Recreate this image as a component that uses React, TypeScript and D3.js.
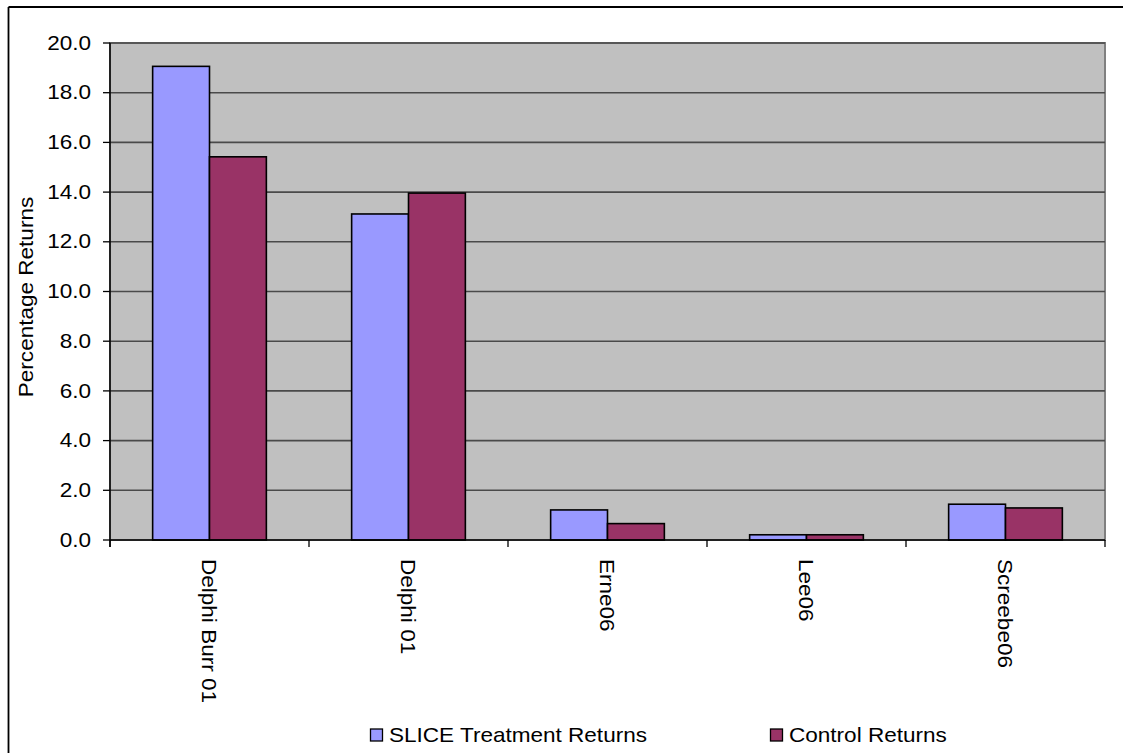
import React, { useEffect } from "react";
import * as d3 from "d3";

const categories = ["Delphi Burr 01", "Delphi 01", "Erne06", "Lee06", "Screebe06"];
const treatmentValues = [19.06, 13.12, 1.21, 0.21, 1.44];
const controlValues = [15.42, 13.96, 0.66, 0.21, 1.29];
const seriesNames = ["SLICE Treatment Returns", "Control Returns"];
const seriesColors = ["#9999FF", "#993366"];
const yTicks = [0, 2, 4, 6, 8, 10, 12, 14, 16, 18, 20];
const yTitle = "Percentage Returns";

const FONT = "'Liberation Sans', Arial, Helvetica, sans-serif";
const FS = 20.5;
const SX = 1.1;

export default function App() {
  useEffect(() => {
    document.body.style.overflow = "hidden";
    document.documentElement.style.overflow = "hidden";
    document.body.style.margin = "0";
  }, []);
  const left = 110, right = 1105, top = 43, bottom = 540;
  const x = d3.scaleBand<string>().domain(categories).range([left, right]).paddingInner(0).paddingOuter(0);
  const bw = x.bandwidth();
  const barW = bw / 3.5;
  const y = d3.scaleLinear().domain([0, 20]).range([bottom, top]);
  const series = [treatmentValues, controlValues];

  return (
    <svg width={1160} height={790} style={{ position: "fixed", left: 0, top: 0, display: "block", background: "#fff" }}>
      {/* outer frame */}
      <line x1={8.5} x2={8.5} y1={7} y2={790} stroke="#000" strokeWidth={1.8} />
      <line x1={8.5} x2={1160} y1={7} y2={7} stroke="#000" strokeWidth={1.8} />
      {/* plot area */}
      <rect x={left} y={top} width={right - left} height={bottom - top} fill="#C0C0C0" stroke="#808080" strokeWidth={2} />
      {yTicks.filter((t) => t > 0).map((t) => (
        <line key={t} x1={left} x2={right} y1={y(t)} y2={y(t)} stroke="#4a4a4a" strokeWidth={1.6} />
      ))}
      {/* bars */}
      {categories.map((c, i) => {
        const cx = (x(c) as number) + bw / 2;
        return series.map((vals, s) => (
          <rect
            key={c + s}
            x={cx - barW + s * barW}
            y={y(vals[i])}
            width={barW}
            height={bottom - y(vals[i])}
            fill={seriesColors[s]}
            stroke="#000"
            strokeWidth={1.6}
          />
        ));
      })}
      {/* axes */}
      <line x1={left} x2={left} y1={top} y2={bottom + 7} stroke="#000" strokeWidth={1.5} />
      <line x1={left} x2={right} y1={bottom} y2={bottom} stroke="#000" strokeWidth={1.5} />
      {yTicks.map((t) => (
        <g key={"yt" + t}>
          <line x1={left - 7} x2={left} y1={y(t)} y2={y(t)} stroke="#000" strokeWidth={1.3} />
          <text
            transform={`translate(${91},${y(t)}) scale(${SX},1)`}
            textAnchor="end"
            dominantBaseline="central"
            fontFamily={FONT}
            fontSize={FS}
            fill="#000"
          >
            {t.toFixed(1)}
          </text>
        </g>
      ))}
      {categories.map((c, i) => (
        <line key={"xt" + i} x1={x(c) as number} x2={x(c) as number} y1={bottom} y2={bottom + 7} stroke="#000" strokeWidth={1.3} />
      ))}
      <line x1={right} x2={right} y1={bottom} y2={bottom + 7} stroke="#000" strokeWidth={1.3} />
      {categories.map((c) => (
        <text
          key={"xl" + c}
          transform={`translate(${(x(c) as number) + bw / 2 - 0.5},${559}) rotate(90) scale(${SX},1)`}
          textAnchor="start"
          dominantBaseline="central"
          fontFamily={FONT}
          fontSize={FS}
          fill="#000"
        >
          {c}
        </text>
      ))}
      {/* y title */}
      <text
        transform={`translate(${33},${297}) rotate(-90) scale(${SX},1)`}
        textAnchor="middle"
        fontFamily={FONT}
        fontSize={FS}
        fill="#000"
      >
        {yTitle}
      </text>
      {/* legend */}
      {seriesNames.map((n, s) => {
        const lx = s === 0 ? 370 : 770;
        return (
          <g key={n}>
            <rect x={lx + 0.5} y={729} width={12} height={12} fill={seriesColors[s]} stroke="#000" strokeWidth={1.3} />
            <text
              transform={`translate(${lx + 19},${742}) scale(${SX},1)`}
              fontFamily={FONT}
              fontSize={FS}
              fill="#000"
            >
              {n}
            </text>
          </g>
        );
      })}
    </svg>
  );
}
